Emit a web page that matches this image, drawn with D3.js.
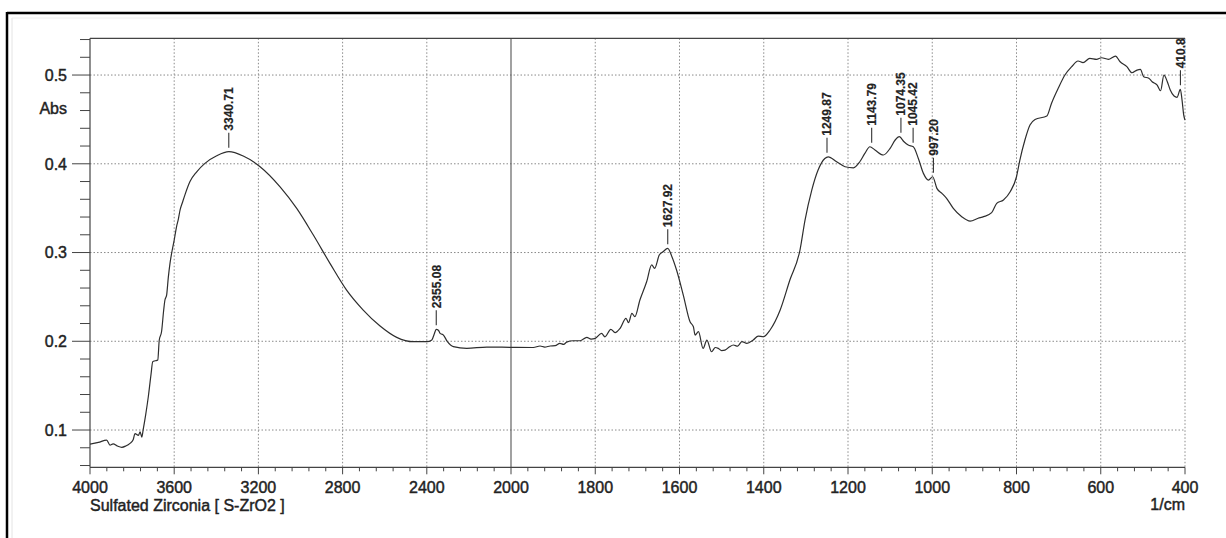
<!DOCTYPE html>
<html>
<head>
<meta charset="utf-8">
<script src="https://cdn.jsdelivr.net/npm/d3@7/dist/d3.min.js"></script>
<style>
  html, body { margin: 0; padding: 0; background: #fff; }
  svg { display: block; font-family: "Liberation Sans", Arial, sans-serif; }
  text.lbl { stroke: #2a2a2a; stroke-width: 0.45px; paint-order: stroke; }
</style>
</head>
<body>
<svg id="chart" width="1226" height="538"></svg>
<script>
// ---- data ----
const wavenumber = [4000,3960,3921,3905,3890,3870,3849,3830,3810,3795,3786,3770,3762,3754,3747,3735,3723,3710,3702,3690,3678,3671,3660,3650,3644,3636,3628,3620,3610,3600,3589,3580,3572,3560,3549,3525,3493,3454,3398,3340,3272,3192,3097,3018,2939,2860,2781,2702,2622,2543,2464,2400,2376,2365,2355,2345,2337,2321,2302,2274,2210,2115,2000,1947,1931,1920,1907,1895,1884,1875,1868,1852,1836,1820,1810,1800,1785,1777,1763,1753,1741,1727,1721,1713,1706,1694,1678,1666,1659,1648,1639,1628,1618,1607,1591,1575,1567,1563,1555,1544,1535,1524,1515,1508,1500,1492,1482,1472,1462,1452,1440,1425,1413,1401,1385,1361,1338,1314,1302,1286,1271,1255,1247,1227,1207,1187,1172,1160,1148,1136,1116,1100,1088,1078,1067,1057,1045,1033,1021,1009,999,989,977,966,950,930,910,891,878,859,847,831,815,800,792,780,768,756,728,717,701,685,669,654,642,626,610,598,582,565,554,538,526,514,506,498,486,478,466,458,450,442,435,426,419,411,407,403,400];
const absorbance = [0.0842,0.086,0.0887,0.083,0.0845,0.082,0.0805,0.082,0.085,0.089,0.096,0.094,0.098,0.092,0.101,0.118,0.1375,0.163,0.177,0.178,0.179,0.2014,0.211,0.235,0.2465,0.252,0.272,0.2878,0.302,0.314,0.329,0.338,0.348,0.357,0.365,0.380,0.391,0.4005,0.409,0.4136,0.4087,0.3967,0.374,0.3497,0.3197,0.2878,0.2577,0.2352,0.2172,0.2044,0.1995,0.1995,0.2015,0.208,0.2135,0.2125,0.209,0.207,0.1995,0.1939,0.192,0.1935,0.1932,0.193,0.1947,0.1935,0.1947,0.195,0.1977,0.1965,0.199,0.2006,0.2006,0.2044,0.2025,0.2033,0.209,0.205,0.2135,0.2097,0.2146,0.2259,0.221,0.2315,0.2277,0.2465,0.2671,0.286,0.2822,0.2972,0.3009,0.3047,0.2953,0.2803,0.2521,0.222,0.2164,0.207,0.2108,0.192,0.2014,0.1882,0.193,0.192,0.1895,0.190,0.1935,0.1958,0.1945,0.1995,0.1977,0.2015,0.2059,0.2051,0.2127,0.2352,0.269,0.3028,0.3366,0.3704,0.393,0.406,0.4079,0.4023,0.3967,0.3955,0.4023,0.4117,0.4192,0.4155,0.4099,0.4174,0.4268,0.4305,0.4248,0.4211,0.4192,0.406,0.3892,0.3817,0.3854,0.3723,0.3667,0.3611,0.3498,0.3404,0.3355,0.3386,0.3404,0.3449,0.3554,0.3592,0.3685,0.3854,0.4042,0.4268,0.4437,0.450,0.4538,0.468,0.485,0.500,0.5094,0.5158,0.514,0.5188,0.5177,0.5195,0.5177,0.5214,0.515,0.5094,0.5026,0.5056,0.5064,0.4981,0.4963,0.4925,0.4887,0.4823,0.500,0.4925,0.4831,0.4763,0.4749,0.4839,0.4718,0.4549,0.4493];

const peakWn = [3340.71, 2355.08, 1627.92, 1249.87, 1143.79, 1074.35, 1045.42, 997.20, 410.84];
const peakAbs = [0.4136, 0.2135, 0.3047, 0.4079, 0.4192, 0.4305, 0.4192, 0.3854, 0.4839];
const peakLabels = ["3340.71", "2355.08", "1627.92", "1249.87", "1143.79", "1074.35", "1045.42", "997.20", "410.84"];

const xTickValues = [4000, 3600, 3200, 2800, 2400, 2000, 1800, 1600, 1400, 1200, 1000, 800, 600, 400];
const xTickLabels = ["4000", "3600", "3200", "2800", "2400", "2000", "1800", "1600", "1400", "1200", "1000", "800", "600", "400"];
const yTickValues = [0.1, 0.2, 0.3, 0.4, 0.5];
const yTickLabels = ["0.1", "0.2", "0.3", "0.4", "0.5"];

const sampleName = "Sulfated Zirconia [ S-ZrO2 ]";
const yTitle = "Abs";
const xUnit = "1/cm";

// ---- layout ----
const svg = d3.select("#chart");
const plotLeft = 90, plotRight = 1185, plotTop = 38.3, plotBottom = 467.3;

// piecewise x scale (expanded below 2000 1/cm)
const x = d3.scaleLinear().domain([4000, 2000, 400]).range([plotLeft, 511, plotRight]);
const y = d3.scaleLinear().domain([0.058, 0.5414]).range([plotBottom, plotTop]);

// outer frame
svg.append("line").attr("x1", 7).attr("x2", 1226).attr("y1", 13).attr("y2", 13)
  .attr("stroke", "#000").attr("stroke-width", 2.5);
svg.append("line").attr("x1", 7).attr("x2", 7).attr("y1", 12).attr("y2", 538)
  .attr("stroke", "#000").attr("stroke-width", 2.5);
svg.append("line").attr("x1", 12).attr("x2", 12).attr("y1", 18).attr("y2", 538)
  .attr("stroke", "#e4e4e4").attr("stroke-width", 1);
svg.append("line").attr("x1", 12).attr("x2", 1226).attr("y1", 18).attr("y2", 18)
  .attr("stroke", "#eeeeee").attr("stroke-width", 1);

// grid
const gridCol = "#8a8a8a";
const g = svg.append("g");
g.selectAll("line.hgrid").data(yTickValues).enter().append("line")
  .attr("x1", plotLeft).attr("x2", plotRight)
  .attr("y1", d => y(d)).attr("y2", d => y(d))
  .attr("stroke", gridCol).attr("stroke-width", 1).attr("stroke-dasharray", "1.5,2");
g.selectAll("line.vgrid").data(xTickValues.filter(v => v !== 4000 && v !== 2000)).enter().append("line")
  .attr("x1", d => x(d)).attr("x2", d => x(d))
  .attr("y1", plotTop).attr("y2", plotBottom)
  .attr("stroke", gridCol).attr("stroke-width", 1).attr("stroke-dasharray", "1.5,2");
// scale break line at 2000
g.append("line").attr("x1", x(2000)).attr("x2", x(2000)).attr("y1", plotTop).attr("y2", plotBottom)
  .attr("stroke", "#555").attr("stroke-width", 1.1);

// axes lines
const axCol = "#444";
svg.append("line").attr("x1", plotLeft).attr("x2", plotRight).attr("y1", plotTop).attr("y2", plotTop)
  .attr("stroke", axCol).attr("stroke-width", 1.2);
svg.append("line").attr("x1", plotLeft).attr("x2", plotLeft).attr("y1", plotTop).attr("y2", plotBottom)
  .attr("stroke", axCol).attr("stroke-width", 1.2);
svg.append("line").attr("x1", plotLeft).attr("x2", plotRight).attr("y1", plotBottom).attr("y2", plotBottom)
  .attr("stroke", axCol).attr("stroke-width", 1.2);

// y ticks
const yMinor = d3.range(0.06, 0.5401, 0.02).map(v => +v.toFixed(2)).filter(v => !yTickValues.includes(v));
svg.append("g").selectAll("line").data(yMinor).enter().append("line")
  .attr("x1", plotLeft - 10).attr("x2", plotLeft).attr("y1", d => y(d)).attr("y2", d => y(d))
  .attr("stroke", axCol).attr("stroke-width", 1);
svg.append("g").selectAll("line").data(yTickValues).enter().append("line")
  .attr("x1", plotLeft - 18).attr("x2", plotLeft).attr("y1", d => y(d)).attr("y2", d => y(d))
  .attr("stroke", axCol).attr("stroke-width", 1);
svg.append("g").selectAll("text").data(yTickValues).enter().append("text")
  .attr("class", "lbl")
  .attr("x", plotLeft - 23).attr("y", d => y(d)).attr("dy", "0.36em")
  .attr("text-anchor", "end").attr("font-size", 16).attr("fill", "#222")
  .text((d, i) => yTickLabels[i]);
svg.append("text").attr("class", "lbl").attr("x", plotLeft - 23).attr("y", y(0.456)).attr("text-anchor", "end")
  .attr("font-size", 16).attr("fill", "#222").text(yTitle);

// x ticks
const xMinor = [];
for (let v = 4000; v >= 2000; v -= 80) if (!xTickValues.includes(v)) xMinor.push(v);
for (let v = 2000; v >= 400; v -= 40) if (!xTickValues.includes(v)) xMinor.push(v);
svg.append("g").selectAll("line").data(xMinor).enter().append("line")
  .attr("x1", d => x(d)).attr("x2", d => x(d)).attr("y1", plotBottom).attr("y2", plotBottom + 4)
  .attr("stroke", axCol).attr("stroke-width", 1);
svg.append("g").selectAll("line").data(xTickValues).enter().append("line")
  .attr("x1", d => x(d)).attr("x2", d => x(d)).attr("y1", plotBottom).attr("y2", plotBottom + 7)
  .attr("stroke", axCol).attr("stroke-width", 1);
svg.append("g").selectAll("text").data(xTickValues).enter().append("text")
  .attr("class", "lbl")
  .attr("x", d => x(d)).attr("y", plotBottom + 26).attr("text-anchor", "middle")
  .attr("font-size", 16).attr("fill", "#222")
  .text((d, i) => xTickLabels[i]);
svg.append("text").attr("class", "lbl").attr("x", plotLeft).attr("y", plotBottom + 44).attr("font-size", 16)
  .attr("fill", "#222").text(sampleName);
svg.append("text").attr("class", "lbl").attr("x", plotRight).attr("y", plotBottom + 43).attr("text-anchor", "end")
  .attr("font-size", 16).attr("fill", "#222").text(xUnit);

// clip
svg.append("defs").append("clipPath").attr("id", "plotclip").append("rect")
  .attr("x", plotLeft).attr("y", plotTop).attr("width", plotRight - plotLeft + 2).attr("height", plotBottom - plotTop);

// spectrum
const pts = wavenumber.map((w, i) => [w, absorbance[i]]);
const line = d3.line().x(d => x(d[0])).y(d => y(d[1])).curve(d3.curveMonotoneX);
svg.append("path").datum(pts).attr("d", line).attr("fill", "none")
  .attr("stroke", "#2e2e2e").attr("stroke-width", 1.2).attr("clip-path", "url(#plotclip)");

// peak labels
const pk = svg.append("g").attr("clip-path", "url(#plotclip)");
peakWn.forEach((w, i) => {
  const px = x(w), py = y(peakAbs[i]);
  pk.append("line").attr("x1", px).attr("x2", px).attr("y1", py - 4).attr("y2", py - 19)
    .attr("stroke", "#333").attr("stroke-width", 1.1);
  pk.append("text").attr("class", "lbl").attr("transform", `translate(${px},${py - 21}) rotate(-90)`)
    .attr("dy", "0.36em").attr("font-size", 12).attr("font-weight", "bold").attr("fill", "#222")
    .style("stroke-width", "0.2px")
    .text(peakLabels[i]);
});
</script>
</body>
</html>
